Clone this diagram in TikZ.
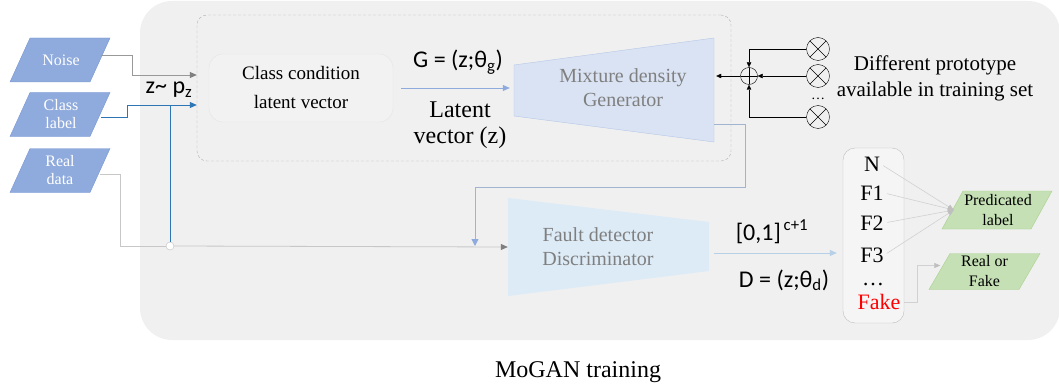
\documentclass[tikz,border=0pt]{standalone}
\usepackage{fontspec}
\setmainfont{Liberation Serif}
\newfontfamily\calibri{Carlito}
\usetikzlibrary{arrows.meta,calc}

\definecolor{bggray}{HTML}{F0F0F0}
\definecolor{inblue}{HTML}{8FAADC}
\definecolor{inedge}{HTML}{7696D2}
\definecolor{genfill}{HTML}{DAE3F3}
\definecolor{genedge}{HTML}{B4C7E7}
\definecolor{discfill}{HTML}{DDEBF7}
\definecolor{lblue}{HTML}{2E75B6}
\definecolor{outgreen}{HTML}{C5E0B4}
\definecolor{outedge}{HTML}{A9D18E}
\definecolor{txtgray}{HTML}{7F7F7F}

\tikzset{
  inputbox/.style={text=white, align=center, minimum width=80, minimum height=44,
    inner sep=0pt, font=\fontsize{16}{18}\selectfont},
  outputbox/.style={align=center, minimum width=88, minimum height=37, inner sep=0pt,
    font=\fontsize{16}{20}\selectfont},
  groupbox/.style={draw=black!30, densely dashed, rounded corners=10},
  condbox/.style={draw=black!10, fill=black!5, rounded corners=14, align=center,
    minimum width=184, minimum height=68, font=\fontsize{19}{29}\selectfont},
  netlabel/.style={text=txtgray, align=center, font=\fontsize{20}{24}\selectfont},
  sumnode/.style={circle, draw, minimum size=17, inner sep=0pt,
    path picture={\draw (path picture bounding box.north) -- (path picture bounding box.south)
      (path picture bounding box.west) -- (path picture bounding box.east);}},
  prodnode/.style={circle, draw, minimum size=23, inner sep=0pt,
    path picture={\draw (path picture bounding box.north west) -- (path picture bounding box.south east)
      (path picture bounding box.south west) -- (path picture bounding box.north east);}},
  junction/.style={circle, draw=black!25, fill=white, minimum size=8, inner sep=0pt},
  outbox/.style={draw=black!25, fill=black!4, rounded corners=12},
  cls/.style={font=\fontsize{22}{24}\selectfont, inner sep=0.5pt},
  eqtext/.style={font=\calibri\fontsize{24}{28}\selectfont},
  tip/.style={-{Triangle[length=7pt,width=6pt]}},
  smalltip/.style={-{Triangle[length=5pt,width=4.5pt]}},
}

\begin{document}
\begin{tikzpicture}[x=1pt, y=-1pt]
  \useasboundingbox (0,0) rectangle (1059,385);

  % Background panel
  \fill[bggray, rounded corners=32] (140,1) rectangle (1060,340);

  % Generator part
  \node[groupbox, minimum width=534, minimum height=146] (grp) at (464,88) {};
  \node[condbox] (cond) at (301,88) {Class condition\\latent vector};
  \filldraw[fill=genfill, draw=genedge] (514,65) -- (714,38) -- (714,142) -- (514,116) -- cycle;
  \node[netlabel, minimum width=182, minimum height=104] (gen) at (623,88) {Mixture density\\Generator};
  \coordinate (genin) at ($(gen.west)+(-22,0)$);

  % Discriminator
  \fill[discfill] (508,198) -- (709,222) -- (709,271) -- (508,296) -- cycle;
  \node[netlabel, minimum width=180, minimum height=98] (disc) at (598,247) {Fault detector\\Discriminator};

  % Inputs (parallelograms)
  \foreach \y in {60,114.5,170.5}
    \filldraw[fill=inblue, draw=inedge] (10,\y+22) -- ++(80,0) -- ++(20,-44) -- ++(-80,0) -- cycle;
  \node[inputbox] (noise) at (61,60) {Noise};
  \node[inputbox] (label) at (61,114.5) {Class\\label};
  \node[inputbox] (real) at (60,170.5) {Real\\data};

  % Outputs
  \node[outbox, minimum width=61, minimum height=175] (out) at (873.5,235.5) {};
  \foreach \name/\txt/\ypos in {cN/N/164, cF1/F1/193, cF2/F2/223, cF3/F3/255}
    \node[cls] (\name) at (872,\ypos) {\txt};
  \node[cls, anchor=base] (cdots) at (873,285) {\ldots};
  \node[cls, text=red] (cfake) at (879,302) {Fake};
  \filldraw[fill=outgreen, draw=outedge] (942,229) -- ++(89,0) -- ++(21,-38) -- ++(-89,0) -- cycle;
  \filldraw[fill=outgreen, draw=outedge] (929,289.5) -- ++(90,0) -- ++(21,-36) -- ++(-90,0) -- cycle;
  \node[outputbox] (pred) at (998,210) {Predicated\\label};
  \node[outputbox] (rof) at (984.5,271.5) {Real or\\Fake};

  % Prototypes
  \node[sumnode] (sum) at (749,76) {};
  \node[prodnode] (p1) at (818,49) {};
  \node[prodnode] (p2) at (818,76) {};
  \node[prodnode] (p3) at (818,117) {};
  \node[font=\fontsize{14}{14}\selectfont, anchor=base] (pdots) at (818,100) {\ldots};
  \node[font=\fontsize{21}{26}\selectfont, align=center, anchor=base] (proto) at (935,97)
    {Different prototype\\available in training set};

  % Input connectors
  \coordinate (noisein) at ($(grp.west)+(0,-13)$);
  \coordinate (labelin) at ($(grp.west)+(0,17)$);
  \node[junction] (jn) at (170,246) {};
  \draw[black!40, line width=0.8pt, -{Triangle[length=7pt,width=6pt,color=txtgray]}]
    ([yshift=5pt]noise.east) -- ++(31,0) |- (noisein);
  \draw[lblue, line width=0.8pt, tip] ([yshift=-2.5pt]label.east) -- ++(26,0) |- (labelin);
  \draw[lblue, line width=0.8pt] (jn.north) -- (jn |- labelin);
  \draw[black!22, line width=0.8pt] ([yshift=-3.5pt]real.east) -- ++(20,0) |- (jn.west);
  \draw[black!22, line width=0.8pt, -{Triangle[length=7pt,width=6pt,color=txtgray]}]
    (jn.east) -- (disc.west);
  \node[eqtext, anchor=base] (zlab) at (169,94) {z\textasciitilde{} p\textsubscript{z}};

  % Generator connectors
  \draw[inblue, line width=0.8pt, tip, shorten <=8pt] (cond.east) -- (genin);
  \node[eqtext, anchor=base] (glab) at (458,68) {G = (z;θ\textsubscript{g})};
  \node[font=\fontsize{24}{26}\selectfont, align=center, anchor=base] (zlat) at (460,143)
    {Latent\\vector (z)};
  \draw[smalltip] (p1.west) -| (sum.north);
  \draw[smalltip] (p2.west) -- (sum.east);
  \draw[smalltip] (p3.west) -| (sum.south);
  \draw[smalltip, shorten >=2pt] (sum.west) -- (gen.east |- sum);

  % Feedback to discriminator
  \coordinate (fb) at (475,187);
  \draw[genedge!90!black, line width=0.8pt, -{Triangle[length=7pt,width=7pt,color=inblue]}]
    ([yshift=-36pt]gen.east) -- ++(31,0) |- (fb) -- (fb |- jn);

  % Discriminator output
  \draw[discfill!60!lblue!70, line width=0.8pt, tip, shorten <=26pt, shorten >=6pt]
    ([yshift=-6pt]disc.east) -- ([yshift=-6pt]disc.east -| out.west);
  \node[eqtext, anchor=base] (range) at (772,240) {[0,1]\textsuperscript{\,c+1}};
  \node[eqtext, anchor=base] (dlab) at (784,287) {D = (z;θ\textsubscript{d})};
  \foreach \name in {cN, cF1, cF2, cF3}
    \draw[black!18, line width=0.6pt, -{Triangle[length=6pt,width=5pt,color=black!25]},
      shorten <=3pt] (\name.east) -- (pred.west);
  \draw[black!18, line width=0.6pt, -{Triangle[length=6pt,width=5pt,color=black!25]}]
    (cfake -| out.east) -- ++(13,0) |- ([yshift=6pt]rof.west);

  % Title
  \node[font=\fontsize{24}{26}\selectfont] (title) at (578,372) {MoGAN training};
\end{tikzpicture}
\end{document}
